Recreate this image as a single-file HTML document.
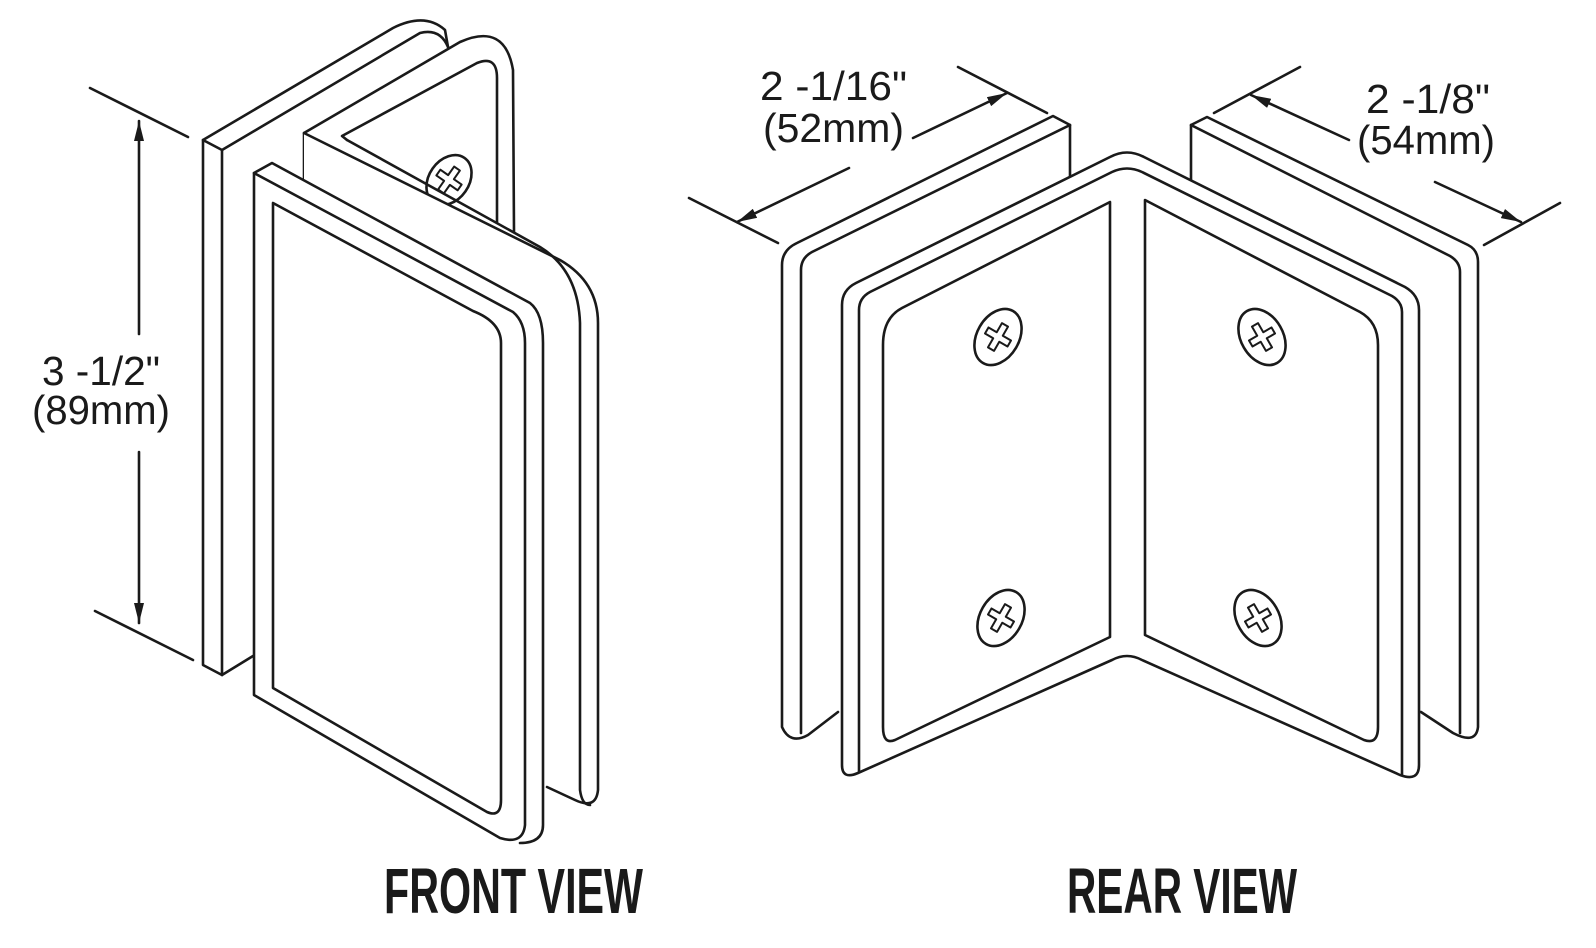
<!DOCTYPE html>
<html><head><meta charset="utf-8"><style>
html,body{margin:0;padding:0;background:#fff;}
svg{display:block;}
</style></head><body>
<svg width="1596" height="948" viewBox="0 0 1596 948" xmlns="http://www.w3.org/2000/svg">
<defs>
<marker id="ar" viewBox="0 0 20 10" refX="20" refY="5" markerWidth="20" markerHeight="10" markerUnits="userSpaceOnUse" orient="auto">
<path d="M0,0 L20,5 L0,10 Z" fill="#1a1a1a"/>
</marker>
</defs>
<g fill="none" stroke="#1a1a1a" stroke-width="2.6" stroke-linejoin="round" stroke-linecap="round">

<!-- FRONT VIEW -->
<path d="M203,140 L203,665 L222,675 L222,150 Z" fill="#fff"/>
<path d="M203,140 L393,28 Q425,12 445,30 L448,47"/>
<path d="M222,150 L420,33 Q440,28 448,47"/>
<path d="M222,675 L253,656"/>
<path d="M304,178 L304,133 L460,42 Q505,22 513,70 L514,232" fill="#fff"/>
<path d="M347,140 L342,136 L477,63 Q497,55 497,78 L497,222"/>
<g transform="translate(449,180) rotate(35)">
<ellipse cx="0" cy="0" rx="20" ry="27" fill="#fff"/>
<path d="M-3.5,-14 L3.5,-14 L3.5,-3.5 L13,-3.5 L13,3.5 L3.5,3.5 L3.5,14 L-3.5,14 L-3.5,3.5 L-13,3.5 L-13,-3.5 L-3.5,-3.5 Z" stroke-width="2"/>
</g>
<path d="M304,133 L560,260 Q598,282 598,323 L598,790 L547,787 L304,650 Z" fill="#fff" stroke="none"/>
<path d="M304,133 L560,260 Q598,282 598,323 L598,790 Q596,810 575,800 L547,787"/>
<path d="M347,140 L540,247 Q578,270 580,323 L580,790 Q582,805 590,805"/>
<path d="M254,173 L272,163 L530,303 Q543,313 543,343 L543,825 Q540,845 517,842 L254,695 Z" fill="#fff" stroke="none"/>
<path d="M254,173 L272,163 L530,303 Q543,313 543,343 L543,825 Q543,843 520,843"/>
<path d="M254,695 L254,173 L513,312 Q525,322 525,343 L525,825 Q523,845 500,838 Z"/>
<path d="M273,203 L273,688 L487,812 Q501,818 501,800 L501,343 Q501,322 473,311 Z"/>

<path d="M90,88 L188,137"/>
<path d="M95,611 L193,660"/>
<path d="M139,334 L139,121" marker-end="url(#ar)"/>
<path d="M139,452 L139,623" marker-end="url(#ar)"/>

<!-- REAR VIEW -->
<path d="M838,712 L808,735 Q790,745 782,727 L782,265 Q782,250 797,243 L1053,116 L1070,125 L1070,180 L1070,700 Z" fill="#fff" stroke="none"/>
<path d="M838,712 L808,735 Q790,745 782,727 L782,265 Q782,250 797,243 L1053,116 L1070,125 L1070,180"/>
<path d="M801,733 L801,270 Q801,258 812,252 L1070,125"/>
<path d="M1421,712 L1453,733 Q1476,745 1478,727 L1478,262 Q1478,250 1468,245 L1207,117 L1191,125 L1191,180 L1191,700 Z" fill="#fff" stroke="none"/>
<path d="M1421,712 L1453,733 Q1476,745 1478,727 L1478,262 Q1478,250 1468,245 L1207,117 L1191,125 L1191,180"/>
<path d="M1460,733 L1460,272 Q1460,262 1450,256 L1191,125"/>
<path d="M842,765 L842,305 Q842,290 856,283 L1110,157 Q1127,148 1144,157 L1405,287 Q1419,295 1419,310 L1419,765 Q1419,782 1400,775 L1142,660 Q1127,652 1112,660 L858,773 Q842,780 842,765 Z" fill="#fff"/>
<path d="M859,772 L859,310 Q859,298 870,292 L1112,172 Q1127,165 1142,172 L1392,296 Q1402,302 1402,312 L1402,775"/>
<path d="M883,727 L883,345 Q883,318 902,308 L1110,202 L1110,637 L895,740 Q883,745 883,727 Z"/>
<path d="M1145,200 L1360,312 Q1378,322 1378,345 L1378,727 Q1378,745 1364,740 L1145,635 Z"/>

<g transform="translate(998,337) rotate(30)">
<ellipse rx="21" ry="30" fill="#fff"/>
<path d="M-3.5,-14 L3.5,-14 L3.5,-3.5 L13,-3.5 L13,3.5 L3.5,3.5 L3.5,14 L-3.5,14 L-3.5,3.5 L-13,3.5 L-13,-3.5 L-3.5,-3.5 Z" stroke-width="2"/>
</g>
<g transform="translate(1001,618) rotate(30)">
<ellipse rx="21" ry="30" fill="#fff"/>
<path d="M-3.5,-14 L3.5,-14 L3.5,-3.5 L13,-3.5 L13,3.5 L3.5,3.5 L3.5,14 L-3.5,14 L-3.5,3.5 L-13,3.5 L-13,-3.5 L-3.5,-3.5 Z" stroke-width="2"/>
</g>
<g transform="translate(1262,337) rotate(-30)">
<ellipse rx="21" ry="30" fill="#fff"/>
<path d="M-3.5,-14 L3.5,-14 L3.5,-3.5 L13,-3.5 L13,3.5 L3.5,3.5 L3.5,14 L-3.5,14 L-3.5,3.5 L-13,3.5 L-13,-3.5 L-3.5,-3.5 Z" stroke-width="2"/>
</g>
<g transform="translate(1258,618) rotate(-30)">
<ellipse rx="21" ry="30" fill="#fff"/>
<path d="M-3.5,-14 L3.5,-14 L3.5,-3.5 L13,-3.5 L13,3.5 L3.5,3.5 L3.5,14 L-3.5,14 L-3.5,3.5 L-13,3.5 L-13,-3.5 L-3.5,-3.5 Z" stroke-width="2"/>
</g>

<path d="M958,67 L1047,113"/>
<path d="M689,198 L778,243"/>
<path d="M913,138 L1007,93" marker-end="url(#ar)"/>
<path d="M849,168 L737,222" marker-end="url(#ar)"/>
<path d="M1300,67 L1214,113"/>
<path d="M1560,203 L1484,245"/>
<path d="M1349,140 L1251,95" marker-end="url(#ar)"/>
<path d="M1435,182 L1521,222" marker-end="url(#ar)"/>
</g>

<g font-family="'Liberation Sans', sans-serif" fill="#1a1a1a" font-size="41">
<text x="42" y="385" textLength="118" lengthAdjust="spacingAndGlyphs">3 -1/2"</text>
<text x="32" y="424" textLength="138" lengthAdjust="spacingAndGlyphs">(89mm)</text>
<text x="760" y="100" textLength="147" lengthAdjust="spacingAndGlyphs">2 -1/16"</text>
<text x="763" y="142" textLength="141" lengthAdjust="spacingAndGlyphs">(52mm)</text>
<text x="1366" y="113" textLength="124" lengthAdjust="spacingAndGlyphs">2 -1/8"</text>
<text x="1357" y="154" textLength="138" lengthAdjust="spacingAndGlyphs">(54mm)</text>
</g>
<g font-family="'Liberation Sans Narrow','Liberation Sans', sans-serif" font-weight="bold" fill="#1a1a1a" font-size="64">
<text x="384" y="913" textLength="259" lengthAdjust="spacingAndGlyphs">FRONT VIEW</text>
<text x="1067" y="913" textLength="230" lengthAdjust="spacingAndGlyphs">REAR VIEW</text>
</g>
</svg>
</body></html>
